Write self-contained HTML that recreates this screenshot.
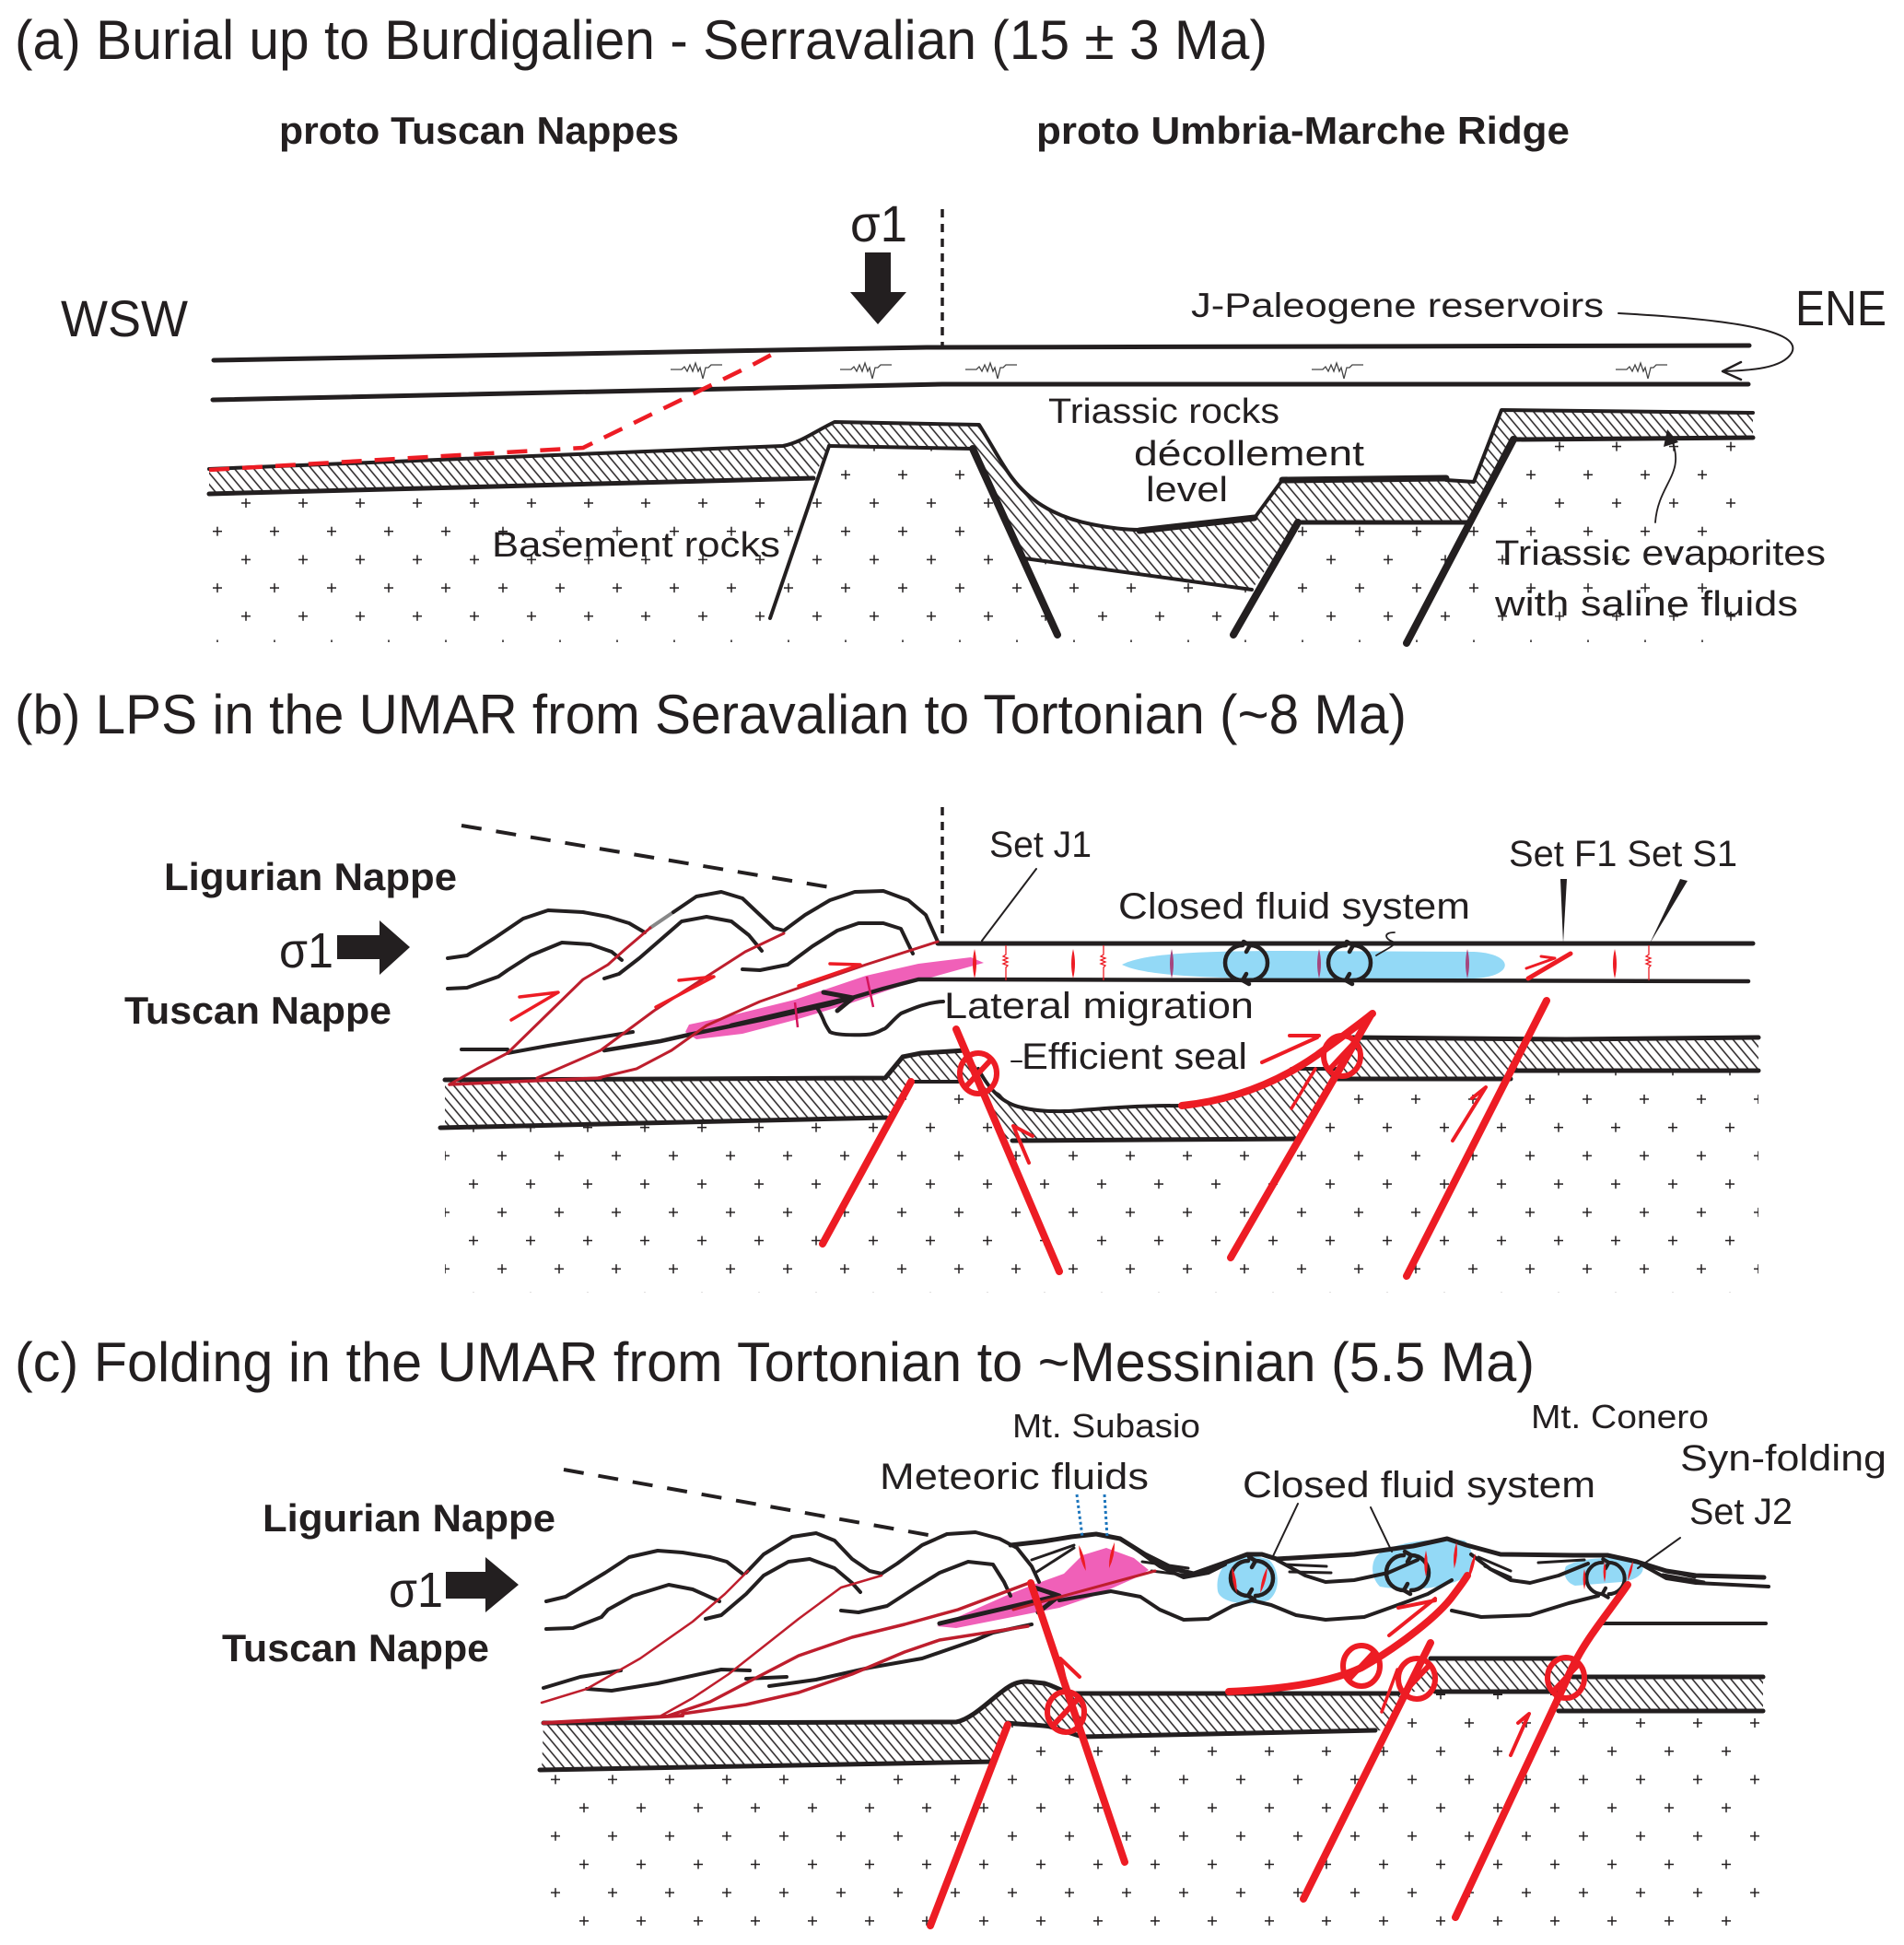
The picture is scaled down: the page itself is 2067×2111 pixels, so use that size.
<!DOCTYPE html>
<html><head><meta charset="utf-8"><style>
html,body{margin:0;padding:0;background:#fff;}
svg{display:block;}
text{font-family:"Liberation Sans",sans-serif;fill:#231f20;}
</style></head><body>
<svg width="2067" height="2111" viewBox="0 0 2067 2111" xmlns="http://www.w3.org/2000/svg">
<defs>
<pattern id="hat" patternUnits="userSpaceOnUse" width="8" height="8" patternTransform="rotate(-40)"><rect width="8" height="8" fill="#fff"/><line x1="4" y1="-1" x2="4" y2="9" stroke="#231f20" stroke-width="1.5"/></pattern>
<pattern id="pa" patternUnits="userSpaceOnUse" x="252" y="531" width="62" height="61.4"><path d="M10,15h10M15,10v10M41,45.7h10M46,40.7v10" stroke="#231f20" stroke-width="1.5" fill="none"/></pattern>
<pattern id="pb" patternUnits="userSpaceOnUse" x="530" y="1178" width="62" height="61.4"><path d="M10,15h10M15,10v10M41,45.7h10M46,40.7v10" stroke="#231f20" stroke-width="1.5" fill="none"/></pattern>
<pattern id="pc" patternUnits="userSpaceOnUse" x="588" y="1855" width="62" height="61.4"><path d="M10,15h10M15,10v10M41,45.7h10M46,40.7v10" stroke="#231f20" stroke-width="1.5" fill="none"/></pattern>
<path id="sty" d="M-32,0 h12 l3,-3 l3,5 l3,-7 l3,7 l3,-9 l3,9 l2,-4 l3,12 l3,-12 h3 l3,-3 h12" fill="none" stroke="#444" stroke-width="1.3"/>
<path id="rsty" d="M0,-19 v10 l-3,2 l5,2 l-5,2 l5,2 l-5,2 l5,2 l-2,2 v14" fill="none" stroke="#ed1c24" stroke-width="1.3"/>
<path id="lens" d="M0,-16 Q4,0 0,16 Q-4,0 0,-16Z"/>
<g id="rot" fill="none" stroke="#231f20" stroke-width="4.5" stroke-linecap="round">
<path d="M-4,-19 A19,19 0 0,0 -4,19"/>
<path d="M4,19 A19,19 0 0,0 4,-19"/>
<path d="M-4,19 l7,4 M-4,19 l4,-7 M4,-19 l-7,-4 M4,-19 l-4,7"/>
</g>
<g id="seal" fill="none" stroke="#ed1c24" stroke-width="6"><ellipse rx="20" ry="22"/><line x1="-14" y1="15" x2="14" y2="-15"/></g>
</defs>

<!-- ================= PANEL A ================= -->
<polygon points="227,536 883,519 900,484 1056,487 1112,606 1359,640 1409,567 1593,567 1643,477 1903,475 1903,697 227,697" fill="url(#pa)"/>
<polygon points="227,509 850,484 870,478 885,468 906,458 1063,461 1079,487 1099,519 1132,551 1185,569 1237,575 1362,562 1392,521 1409,519 1570,519 1600,523 1630,445 1903,448 1903,475 1643,477 1593,567 1409,567 1359,640 1112,606 1056,487 900,484 883,519 227,536" fill="url(#hat)"/>

<g fill="none" stroke="#231f20" stroke-linecap="round" stroke-linejoin="round">
<path d="M232,391 L1006,377 L1899,375" stroke-width="5"/>
<path d="M231,434 L1023,417 L1898,417" stroke-width="5"/>
<path d="M227,509 L850,484 C870,480 885,468 906,458 L1063,461 C1078,485 1088,505 1099,519 C1115,540 1140,560 1185,569 C1205,573 1222,575 1237,575" stroke-width="4"/>
<path d="M1237,576 L1362,562" stroke-width="7"/>
<path d="M1362,562 L1392,521" stroke-width="4"/>
<path d="M1392,521 L1570,519" stroke-width="7"/>
<path d="M1570,521 L1600,523 L1630,445 L1903,448" stroke-width="4"/>
<path d="M227,536 L883,519" stroke-width="5"/>
<path d="M900,484 L1056,487" stroke-width="4"/>
<path d="M900,484 L836,671" stroke-width="4"/>
<path d="M1056,487 L1148,689" stroke-width="8"/>
<path d="M1112,606 L1359,640" stroke-width="4"/>
<path d="M1409,567 L1593,567" stroke-width="5"/>
<path d="M1409,567 L1339,689" stroke-width="8"/>
<path d="M1643,477 L1527,698" stroke-width="8"/>
<path d="M1643,477 L1903,475" stroke-width="5"/>
<path d="M1023,227 L1023,376" stroke-width="3.5" stroke-dasharray="9 7" stroke-linecap="butt"/>
<path d="M1757,340 C1850,345 1960,355 1945,383 C1935,400 1900,402 1872,403" stroke-width="2"/>
<path d="M1890,393 L1870,403 L1890,412" stroke-width="2.5"/>
<path d="M1797,567 C1800,525 1830,515 1815,478" stroke-width="1.8"/>
</g>
<polygon points="1810,466 1806,485 1822,480" fill="#231f20"/>
<path d="M227,510 L633,486 L817,396 L843,382" fill="none" stroke="#ed1c24" stroke-width="4.5" stroke-dasharray="22 14"/>
<polygon points="939,274 967,274 967,317 984,317 953,352 923,317 939,317" fill="#231f20"/>
<use href="#sty" x="760" y="401"/>
<use href="#sty" x="944" y="401"/>
<use href="#sty" x="1080" y="401"/>
<use href="#sty" x="1456" y="401"/>
<use href="#sty" x="1786" y="401"/>

<text x="16" y="64" font-size="60" textLength="1360" lengthAdjust="spacingAndGlyphs">(a) Burial up to Burdigalien - Serravalian (15 ± 3 Ma)</text>
<text x="303" y="156" font-size="42" font-weight="bold" textLength="434" lengthAdjust="spacingAndGlyphs">proto Tuscan Nappes</text>
<text x="1125" y="156" font-size="42" font-weight="bold" textLength="579" lengthAdjust="spacingAndGlyphs">proto Umbria-Marche Ridge</text>
<text x="66" y="365" font-size="56" textLength="138" lengthAdjust="spacingAndGlyphs">WSW</text>
<text x="1949" y="353" font-size="54" textLength="99" lengthAdjust="spacingAndGlyphs">ENE</text>
<text x="923" y="262" font-size="56" textLength="62" lengthAdjust="spacingAndGlyphs">σ1</text>
<text x="1293" y="344" font-size="37" textLength="448" lengthAdjust="spacingAndGlyphs">J-Paleogene reservoirs</text>
<text x="1138" y="459" font-size="38" textLength="251" lengthAdjust="spacingAndGlyphs">Triassic rocks</text>
<text x="1231" y="505" font-size="38" textLength="250" lengthAdjust="spacingAndGlyphs">décollement</text>
<text x="1244" y="544" font-size="38" textLength="89" lengthAdjust="spacingAndGlyphs">level</text>
<text x="534" y="604" font-size="38" textLength="313" lengthAdjust="spacingAndGlyphs">Basement rocks</text>
<text x="1623" y="613" font-size="38" textLength="359" lengthAdjust="spacingAndGlyphs">Triassic evaporites</text>
<text x="1623" y="668" font-size="38" textLength="329" lengthAdjust="spacingAndGlyphs">with saline fluids</text>

<!-- ================= PANEL B ================= -->
<polygon points="483,1224 968,1213 989,1174 1062,1174 1089,1236 1410,1236 1448,1171 1640,1171 1643,1162 1909,1162 1909,1403 483,1403" fill="url(#pb)"/>
<polygon points="483,1172 961,1170 980,1147 1000,1143 1048,1140 1065,1165 1078,1182 1109,1202 1160,1206 1237,1201 1284,1200 1330,1193 1376,1175 1402,1162 1455,1160 1474,1126 1909,1126 1909,1162 1643,1162 1640,1171 1448,1171 1410,1236 1089,1236 1062,1174 989,1174 968,1213 483,1224" fill="url(#hat)"/>

<path d="M1218,1047 C1240,1035 1300,1032 1400,1032 L1600,1033 C1645,1035 1645,1060 1600,1062 L1400,1062 C1300,1062 1240,1058 1218,1047 Z" fill="#93d9f6"/>
<polygon points="748,1112 786,1104 863,1085 940,1059 997,1046 1054,1039 1068,1045 1039,1053 978,1070 920,1090 863,1107 806,1122 756,1128 744,1120" fill="#f060b8"/>

<g fill="none" stroke="#231f20" stroke-linecap="round" stroke-linejoin="round">
<path d="M483,1172 L961,1170 L980,1147 L1000,1143 L1048,1140" stroke-width="5"/>
<path d="M478,1224 L962,1213" stroke-width="5"/>
<path d="M989,1174 L1040,1174" stroke-width="4"/>
<path d="M1062,1160 C1075,1185 1090,1198 1109,1202 C1130,1207 1150,1206 1160,1206 C1190,1204 1220,1200 1284,1200" stroke-width="4"/>
<path d="M1402,1160 L1455,1160" stroke-width="4"/>
<path d="M1099,1238 L1410,1236" stroke-width="5"/>
<path d="M1468,1126 L1700,1128 L1909,1126" stroke-width="5"/>
<path d="M1448,1171 L1640,1171" stroke-width="5"/>
<path d="M1643,1162 L1909,1162" stroke-width="5"/>
<path d="M1018,1024 L1903,1024" stroke-width="5"/>
<path d="M501,1139 L551,1139" stroke-width="4"/>
<path d="M551,1143 L595,1135 L687,1120" stroke-width="4"/>
<path d="M656,1140 L717,1130 L748,1123 L825,1107 L901,1090 L959,1073 L997,1063 L1024,1063 L1898,1065" stroke-width="4.5"/>
<path d="M486,1040 L507,1037 L537,1018 L568,997 L595,988 L633,990 L660,995 L683,1002 L700,1012" stroke-width="4"/>
<path d="M706,1007 L731,990" stroke-width="4" stroke="#888"/>
<path d="M731,990 L756,973 L783,968 L806,975 L825,993 L840,1007 L851,1010" stroke-width="4"/>
<path d="M851,1010 L874,993 L901,977 L928,968 L959,967 L986,977 L1005,993 L1018,1022" stroke-width="4"/>
<path d="M486,1073 L507,1072 L541,1060 L551,1053 L576,1037 L610,1023 L641,1025 L664,1033 L675,1042" stroke-width="4"/>
<path d="M656,1062 L672,1057 L694,1040 L717,1020 L740,1000 L767,995 L794,1000 L813,1015 L827,1032" stroke-width="4"/>
<path d="M806,1052 L825,1053 L855,1047 L882,1027 L909,1010 L932,1002 L959,1002 L978,1008 L991,1035" stroke-width="4"/>
<path d="M1024,1087 C1005,1088 990,1095 978,1100 C968,1108 962,1117 959,1117 C950,1122 945,1123 940,1123 C915,1124 905,1122 901,1120 C897,1114 895,1110 894,1107 C891,1100 889,1096 886,1093" stroke-width="4"/>
<path d="M501,896 L913,965" stroke-width="4" stroke-dasharray="22 16" stroke-linecap="butt"/>
<path d="M1023,876 L1023,1015" stroke-width="3.5" stroke-dasharray="9 7" stroke-linecap="butt"/>
<path d="M1125,943 L1066,1021" stroke-width="2"/>
<path d="M1514,1012 C1500,1012 1505,1020 1512,1022 C1518,1025 1505,1030 1494,1037" stroke-width="1.8"/>
<path d="M1098,1152 L1109,1152" stroke-width="2"/>
<path d="M794,1113 L924,1083" stroke-width="5"/>
<path d="M894,1077 L926,1083 L909,1097" stroke-width="5"/>
</g>
<polygon points="1694,954 1701,954 1697,1024" fill="#231f20"/>
<polygon points="1824,954 1832,956 1791,1024" fill="#231f20"/>

<use href="#lens" x="1058" y="1046" fill="#ed1c24"/>
<use href="#lens" x="1165" y="1046" fill="#ed1c24"/>
<use href="#lens" x="1272" y="1046" fill="#a5467e"/>
<use href="#lens" x="1432" y="1046" fill="#a5467e"/>
<use href="#lens" x="1593" y="1046" fill="#a5467e"/>
<use href="#lens" x="1753" y="1046" fill="#ed1c24"/>
<use href="#rsty" x="1092" y="1045"/>
<use href="#rsty" x="1198" y="1045"/>
<use href="#rsty" x="1790" y="1045"/>
<use href="#rot" x="1353" y="1045"/>
<use href="#rot" x="1465" y="1045"/>
<path d="M863,1088 L866,1115 M941,1060 L948,1093" stroke="#d4145a" stroke-width="2.5" fill="none"/>

<g fill="none" stroke="#be1e2d" stroke-width="3" stroke-linecap="round" stroke-linejoin="round">
<path d="M488,1177 L652,1170" stroke-width="3.5"/>
<path d="M488,1177 L518,1160 L551,1143 L595,1100 L633,1063 L660,1047 L679,1030 L706,1007"/>
<path d="M583,1170 L652,1140 L710,1097 L767,1060 L809,1033 L851,1013"/>
<path d="M649,1170 L691,1160 L729,1140 L767,1113 L825,1087 L882,1067 L940,1047 L1018,1022"/>
</g>
<g fill="none" stroke="#ed1c24" stroke-linecap="round" stroke-linejoin="round">
<path d="M555,1107 L606,1077 L564,1082" stroke-width="3.5"/>
<path d="M712,1093 L775,1060 L737,1064" stroke-width="3.5"/>
<path d="M867,1070 L934,1047 L901,1046" stroke-width="3.5"/>
<path d="M989,1174 L893,1350" stroke-width="8"/>
<path d="M1038,1117 L1150,1380" stroke-width="8"/>
<path d="M1488,1102 L1336,1365" stroke-width="8"/>
<path d="M1283,1200 C1330,1195 1380,1180 1430,1145 C1460,1123 1478,1110 1490,1100" stroke-width="8"/>
<path d="M1679,1086 L1527,1385" stroke-width="8"/>
<path d="M1117,1262 L1100,1222 L1121,1233" stroke-width="4"/>
<path d="M1370,1153 L1430,1126 M1400,1124 L1432,1124" stroke-width="4"/>
<path d="M1402,1203 L1428,1160 L1418,1176" stroke-width="3.5"/>
<path d="M1577,1238 L1613,1180 L1598,1192" stroke-width="4"/>
<path d="M1659,1062 L1705,1035" stroke-width="5"/>
<path d="M1657,1051 L1688,1040 L1673,1038" stroke-width="3"/>
</g>
<use href="#seal" x="1062" y="1165"/>
<use href="#seal" x="1457" y="1146"/>
<polygon points="366,1015 412,1015 412,999 445,1028 412,1058 412,1041 366,1041" fill="#231f20"/>

<text x="16" y="796" font-size="60" textLength="1511" lengthAdjust="spacingAndGlyphs">(b) LPS in the UMAR from Seravalian to Tortonian (~8 Ma)</text>
<text x="178" y="966" font-size="42" font-weight="bold" textLength="318" lengthAdjust="spacingAndGlyphs">Ligurian Nappe</text>
<text x="303" y="1050" font-size="54" textLength="59" lengthAdjust="spacingAndGlyphs">σ1</text>
<text x="135" y="1111" font-size="42" font-weight="bold" textLength="290" lengthAdjust="spacingAndGlyphs">Tuscan Nappe</text>
<text x="1074" y="930" font-size="40" textLength="111" lengthAdjust="spacingAndGlyphs">Set J1</text>
<text x="1214" y="997" font-size="40" textLength="382" lengthAdjust="spacingAndGlyphs">Closed fluid system</text>
<text x="1638" y="940" font-size="40" textLength="248" lengthAdjust="spacingAndGlyphs">Set F1 Set S1</text>
<text x="1025" y="1105" font-size="40" textLength="336" lengthAdjust="spacingAndGlyphs">Lateral migration</text>
<text x="1109" y="1160" font-size="40" textLength="245" lengthAdjust="spacingAndGlyphs">Efficient seal</text>

<!-- ================= PANEL C ================= -->
<polygon points="588,1922 1079,1912 1094,1872 1140,1874 1175,1885 1506,1878 1531,1836 1696,1836 1689,1857 1914,1857 1914,2104 588,2104" fill="url(#pc)"/>
<polygon points="590,1870 1038,1869 1058,1862 1089,1835 1109,1825 1134,1827 1160,1838 1530,1838 1552,1800 1707,1800 1705,1820 1914,1820 1914,1857 1689,1857 1696,1836 1531,1836 1506,1878 1175,1885 1140,1874 1094,1872 1079,1912 588,1922" fill="url(#hat)"/>

<path d="M1330,1698 C1335,1688 1360,1686 1378,1693 C1390,1705 1390,1728 1377,1737 C1355,1744 1325,1740 1322,1727 C1320,1712 1325,1704 1330,1698 Z" fill="#93d9f6"/>
<path d="M1495,1688 C1510,1674 1560,1668 1590,1672 C1602,1682 1600,1705 1590,1712 C1570,1724 1530,1728 1498,1722 C1488,1712 1488,1696 1495,1688 Z" fill="#93d9f6"/>
<path d="M1700,1700 C1715,1690 1760,1688 1780,1695 C1790,1705 1778,1715 1760,1717 L1710,1721 C1698,1717 1697,1706 1700,1700 Z" fill="#93d9f6"/>
<polygon points="1017,1765 1094,1731 1119,1721 1155,1708 1175,1688 1201,1680 1231,1691 1247,1704 1236,1711 1191,1731 1150,1745 1099,1755 1038,1767" fill="#f060b8"/>

<g fill="none" stroke="#231f20" stroke-linecap="round" stroke-linejoin="round">
<path d="M590,1870 L1038,1869 C1055,1866 1075,1845 1089,1835 C1098,1828 1105,1825 1115,1825 L1134,1827 C1145,1830 1152,1836 1165,1838 L1518,1838" stroke-width="5"/>
<path d="M586,1921 L1079,1912" stroke-width="5"/>
<path d="M1094,1870 C1110,1872 1130,1872 1140,1874 L1175,1885 L1493,1878" stroke-width="5"/>
<path d="M1553,1800 L1707,1800" stroke-width="5"/>
<path d="M1558,1836 L1692,1836" stroke-width="5"/>
<path d="M1707,1820 L1914,1820" stroke-width="5"/>
<path d="M1692,1857 L1914,1857" stroke-width="5"/>
<path d="M593,1738 L614,1733 L657,1707 L683,1690 L714,1683 L741,1685 L771,1690 L789,1695 L806,1708" stroke-width="4"/>
<path d="M810,1707 L829,1687 L860,1668 L886,1664 L906,1672 L925,1692 L944,1705 L957,1708" stroke-width="4"/>
<path d="M957,1708 L974,1697 L1001,1677 L1028,1665 L1059,1663 L1085,1670 L1104,1680 L1120,1700 L1128,1717" stroke-width="4"/>
<path d="M593,1768 L622,1767 L653,1755 L660,1747 L687,1732 L726,1720 L752,1725 L781,1738" stroke-width="4"/>
<path d="M766,1757 L783,1753 L810,1730 L829,1710 L856,1695 L879,1692 L906,1702 L925,1718 L934,1728" stroke-width="4"/>
<path d="M913,1748 L932,1750 L963,1743 L994,1723 L1020,1707 L1051,1695 L1078,1698 L1090,1717 L1097,1732" stroke-width="4"/>
<path d="M1150,1737 L1206,1727 L1238,1733 L1259,1747 L1285,1758 L1312,1757 L1338,1743 L1359,1737 L1380,1742 L1407,1753 L1439,1758 L1481,1755 L1523,1740 L1550,1730 L1576,1715" stroke-width="4"/>
<path d="M1576,1748 L1608,1755 L1661,1753 L1703,1740 L1735,1732" stroke-width="4"/>
<path d="M1738,1762 L1917,1762" stroke-width="4"/>
<path d="M590,1832 L630,1820 L674,1813" stroke-width="4"/>
<path d="M637,1833 L664,1835 L714,1827 L783,1812 L814,1813" stroke-width="4"/>
<path d="M810,1822 L854,1820" stroke-width="4"/>
<path d="M835,1830 L886,1823 L944,1810 L1001,1800 L1059,1780 L1078,1772 L1120,1763" stroke-width="4"/>
<path d="M1097,1677 L1132,1673 L1163,1668 L1190,1665 L1216,1670 L1243,1687 L1275,1703 L1296,1708 L1327,1697 L1354,1687 L1370,1687 L1386,1692 L1470,1687 L1534,1678 L1571,1670 L1592,1677 L1629,1687 L1708,1688 L1745,1688 L1777,1695 L1809,1705 L1841,1710 L1915,1712" stroke-width="5"/>
<path d="M1227,1677 L1259,1700 L1285,1712 L1312,1707 L1330,1698" stroke-width="4"/>
<path d="M1386,1693 L1417,1710 L1439,1717 L1470,1715 L1507,1707 L1539,1693" stroke-width="4"/>
<path d="M1597,1687 L1618,1703 L1640,1715 L1661,1718 L1692,1710 L1724,1697" stroke-width="4"/>
<path d="M1782,1698 L1809,1713 L1841,1718 L1920,1722" stroke-width="4"/>
<path d="M1240,1695 L1290,1702 M1250,1705 L1290,1710 M1395,1698 L1440,1700 M1400,1706 L1445,1707 M1605,1690 L1640,1705 M1612,1700 L1640,1712 M1670,1696 L1720,1693 M1800,1703 L1840,1712 M1805,1709 L1850,1717 M1120,1693 L1166,1677 M1124,1707 L1166,1680" stroke-width="3"/>
<path d="M612,1595 L1019,1668" stroke-width="4" stroke-dasharray="22 16" stroke-linecap="butt"/>
<path d="M1409,1632 L1382,1689 M1488,1636 L1511,1684 M1824,1669 L1778,1702" stroke-width="2"/>
<path d="M1020,1762 L1145,1733" stroke-width="5"/>
<path d="M1120,1722 L1150,1732 L1127,1750" stroke-width="5"/>
</g>
<path d="M1169,1622 L1175,1668 M1199,1622 L1202,1668" stroke="#1c75bc" stroke-width="3" stroke-dasharray="3 3" fill="none"/>
<use href="#rot" transform="translate(1359,1713)"/>
<use href="#rot" transform="translate(1528,1707)"/>
<use href="#rot" transform="translate(1743,1713) scale(0.9)"/>
<g fill="#ed1c24">
<use href="#lens" transform="translate(1175,1691) rotate(-15) scale(0.9)"/>
<use href="#lens" transform="translate(1207,1688) rotate(12) scale(0.9)"/>
<use href="#lens" transform="translate(1340,1715) rotate(-10) scale(0.9)"/>
<use href="#lens" transform="translate(1372,1715) rotate(15) scale(0.9)"/>
<use href="#lens" transform="translate(1548,1697) scale(0.9)"/>
<use href="#lens" transform="translate(1580,1688) rotate(5) scale(0.9)"/>
<use href="#lens" transform="translate(1598,1700) rotate(15) scale(0.9)"/>
<use href="#lens" transform="translate(1720,1714) scale(0.7)"/>
<use href="#lens" transform="translate(1742,1706) scale(0.7)"/>
<use href="#lens" transform="translate(1770,1705) rotate(15) scale(0.7)"/>
</g>
<g fill="none" stroke="#be1e2d" stroke-width="3" stroke-linecap="round" stroke-linejoin="round">
<path d="M590,1870 L741,1862" stroke-width="4"/>
<path d="M588,1848 L637,1833 L695,1800 L752,1760 L787,1730 L812,1705" stroke-width="2.5"/>
<path d="M718,1862 L752,1843 L791,1817 L829,1787 L867,1757 L913,1723 L957,1710" stroke-width="2.5"/>
<path d="M726,1862 L771,1847 L817,1823 L867,1797 L925,1777 L982,1763 L1040,1747 L1120,1717" stroke-width="3.5"/>
<path d="M741,1860 L810,1850 L867,1837 L925,1817 L982,1793 L1020,1780 L1116,1765" stroke-width="3.5"/>
<path d="M1100,1747 L1254,1705"/>
</g>
<g fill="none" stroke="#ed1c24" stroke-linecap="round" stroke-linejoin="round">
<path d="M1094,1872 L1010,2090" stroke-width="8"/>
<path d="M1119,1718 L1221,2021" stroke-width="8"/>
<path d="M1334,1836 C1380,1834 1440,1828 1478,1810 C1510,1792 1555,1760 1575,1735 C1585,1722 1590,1715 1593,1710" stroke-width="8"/>
<path d="M1553,1783 L1415,2061" stroke-width="8"/>
<path d="M1767,1720 C1750,1745 1725,1775 1712,1800 C1705,1812 1702,1820 1700,1825 L1580,2081" stroke-width="8"/>
<path d="M1160,1840 L1151,1800 L1172,1820" stroke-width="4"/>
<path d="M1508,1775 L1558,1735 M1518,1745 L1558,1737" stroke-width="4"/>
<path d="M1500,1858 L1517,1812" stroke-width="3.5"/>
<path d="M1640,1905 L1660,1860 L1648,1870" stroke-width="4"/>
</g>
<use href="#seal" x="1157" y="1858"/>
<use href="#seal" x="1478" y="1808"/>
<use href="#seal" x="1538" y="1822"/>
<use href="#seal" x="1700" y="1821"/>
<polygon points="484,1706 527,1706 527,1690 563,1720 527,1750 527,1735 484,1735" fill="#231f20"/>

<text x="16" y="1499" font-size="60" textLength="1650" lengthAdjust="spacingAndGlyphs">(c) Folding in the UMAR from Tortonian to ~Messinian (5.5 Ma)</text>
<text x="285" y="1662" font-size="42" font-weight="bold" textLength="318" lengthAdjust="spacingAndGlyphs">Ligurian Nappe</text>
<text x="422" y="1744" font-size="54" textLength="59" lengthAdjust="spacingAndGlyphs">σ1</text>
<text x="241" y="1803" font-size="42" font-weight="bold" textLength="290" lengthAdjust="spacingAndGlyphs">Tuscan Nappe</text>
<text x="1099" y="1560" font-size="36" textLength="204" lengthAdjust="spacingAndGlyphs">Mt. Subasio</text>
<text x="955" y="1616" font-size="40" textLength="292" lengthAdjust="spacingAndGlyphs">Meteoric fluids</text>
<text x="1349" y="1625" font-size="40" textLength="383" lengthAdjust="spacingAndGlyphs">Closed fluid system</text>
<text x="1662" y="1550" font-size="36" textLength="193" lengthAdjust="spacingAndGlyphs">Mt. Conero</text>
<text x="1824" y="1596" font-size="40" textLength="224" lengthAdjust="spacingAndGlyphs">Syn-folding</text>
<text x="1834" y="1654" font-size="40" textLength="112" lengthAdjust="spacingAndGlyphs">Set J2</text>
</svg>
</body></html>
